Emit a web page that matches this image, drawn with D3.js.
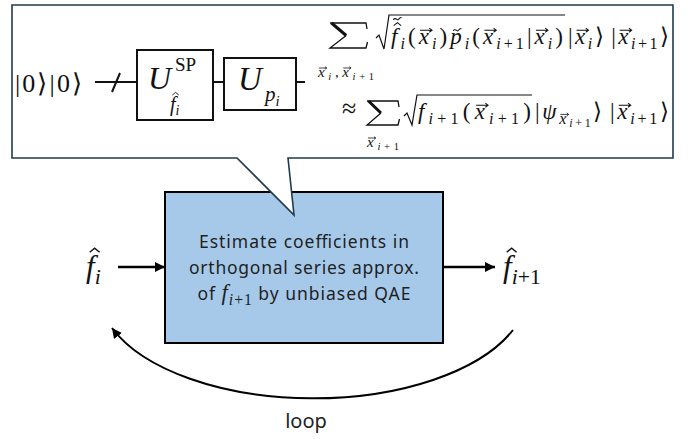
<!DOCTYPE html>
<html lang="en">
<head>
  <meta charset="UTF-8">
  <title>Iterative QAE loop</title>
  <style>
    body { margin: 0; background: #fff; }
    svg { display: block; }
  </style>
</head>
<body>
  <svg width="691" height="439"></svg>
  <script src="https://d3js.org/d3.v7.min.js"></script>
  <script>
    const svg = d3.select('svg');
    const SERIF = "'Liberation Serif', 'Times New Roman', serif";
    const SANS = "'Noto Sans', 'Open Sans', sans-serif";

    // Text content
    const boxLines = ['Estimate coefficients in', 'orthogonal series approx.'];
    const boxWidths = [210, 230, 213];
    const boxLine3 = [{s: 'of ', sans: 1, k: 0.78}, {s: 'f', it: 1}, {s: 'i', l: 1, it: 1}, {s: '+1', l: 1}, {s: ' by unbiased QAE', sans: 1, k: 0.78}];
    const loopLabel = 'loop';
    const kets = '|0⟩|0⟩';
    const spLabel = 'SP';

    // Formula pieces (l: 0 base, 1 sub, 2 sub-sub; it: italic; d: decoration)
    const sumSub1 = [{s: 'x', it: 1, d: 'vec'}, {s: 'i', l: 1, it: 1}, {s: ','}, {s: 'x', it: 1, d: 'vec'}, {s: 'i', l: 1, it: 1}, {s: '+1', l: 1}];
    const root1 = [
      {s: 'f', it: 1, d: 'hattilde'}, {s: 'i', l: 1, it: 1}, {s: '('}, {s: 'x', it: 1, d: 'vec'}, {s: 'i', l: 1, it: 1}, {s: ')'},
      {s: 'p', it: 1, d: 'tilde'}, {s: 'i', l: 1, it: 1}, {s: '('}, {s: 'x', it: 1, d: 'vec'}, {s: 'i', l: 1, it: 1}, {s: '+1', l: 1},
      {s: '|'}, {s: 'x', it: 1, d: 'vec'}, {s: 'i', l: 1, it: 1}, {s: ')'}
    ];
    const kets1 = [
      {s: '|'}, {s: 'x', it: 1, d: 'vec'}, {s: 'i', l: 1, it: 1}, {s: '⟩'},
      {s: '|', dx: 5}, {s: 'x', it: 1, d: 'vec'}, {s: 'i', l: 1, it: 1}, {s: '+1', l: 1}, {s: '⟩'}
    ];
    const sumSub2 = [{s: 'x', it: 1, d: 'vec'}, {s: 'i', l: 1, it: 1}, {s: '+1', l: 1}];
    const root2 = [{s: 'f', it: 1}, {s: 'i', l: 1, it: 1}, {s: '+1', l: 1}, {s: '('}, {s: 'x', it: 1, d: 'vec'}, {s: 'i', l: 1, it: 1}, {s: '+1', l: 1}, {s: ')'}];
    const kets2 = [
      {s: '|'}, {s: 'ψ', it: 1}, {s: 'x', l: 1, it: 1, d: 'vec'}, {s: 'i', l: 2, it: 1}, {s: '+1', l: 2}, {s: '⟩'},
      {s: '|', dx: 5}, {s: 'x', it: 1, d: 'vec'}, {s: 'i', l: 1, it: 1}, {s: '+1', l: 1}, {s: '⟩'}
    ];

    const defs = svg.append('defs');
    defs.append('marker')
      .attr('id', 'head')
      .attr('viewBox', '0 0 10 10')
      .attr('refX', 10).attr('refY', 5)
      .attr('markerWidth', 10).attr('markerHeight', 10)
      .attr('markerUnits', 'userSpaceOnUse')
      .attr('orient', 'auto')
      .append('path').attr('d', 'M0,0 L10,5 L0,10 Z').attr('fill', '#000');

    // draw a run of math text (one text chunk, shifts with dy), returns the text node
    function mathRun(g, x, y, size, parts, opts = {}) {
      const t = g.append('text')
        .attr('x', x).attr('y', y)
        .attr('font-family', SERIF)
        .attr('font-size', size)
        .style('white-space', 'pre')
        .attr('fill', opts.fill || '#111');
      if (opts.anchor) t.attr('text-anchor', opts.anchor);
      const info = [];
      let idx = 0, cur = 0;
      parts.forEach(p => {
        const l = p.l || 0;
        let fs = l === 0 ? size : l === 1 ? size * 0.7 : size * 0.52;
        if (p.k) fs = size * p.k;
        const shift = l === 0 ? 0 : l === 1 ? size * 0.22 : size * 0.36;
        const ts = t.append('tspan')
          .attr('dy', shift - cur)
          .attr('font-size', fs)
          .attr('font-style', p.it ? 'italic' : 'normal')
          .text(p.s);
        cur = shift;
        if (p.sans) ts.attr('font-family', SANS);
        if (p.dx) ts.attr('dx', p.dx);
        info.push({p, idx, fs, yb: y + shift});
        idx += p.s.length;
      });
      if (opts.width) t.attr('textLength', opts.width).attr('lengthAdjust', 'spacing');
      const node = t.node();
      info.forEach(({p, idx, fs, yb}) => {
        if (!p.d) return;
        const e = node.getExtentOfChar(idx);
        const cx = e.x + e.width / 2 + fs * 0.06;
        const sw = Math.max(0.8, fs * 0.045);
        if (p.d === 'vec') {
          const yy = yb - fs * 0.6, x1 = cx - fs * 0.22, x2 = cx + fs * 0.3;
          g.append('path')
            .attr('d', `M${x1},${yy} H${x2} M${x2 - fs * 0.12},${yy - fs * 0.09} L${x2},${yy} L${x2 - fs * 0.12},${yy + fs * 0.09}`)
            .attr('fill', 'none').attr('stroke', '#111').attr('stroke-width', sw);
        }
        if (p.d === 'hat' || p.d === 'hattilde') {
          const yy = yb - fs * 0.9, hx = cx + fs * 0.08;
          g.append('path')
            .attr('d', `M${hx - fs * 0.16},${yy + fs * 0.1} L${hx},${yy - fs * 0.03} L${hx + fs * 0.16},${yy + fs * 0.1}`)
            .attr('fill', 'none').attr('stroke', '#111').attr('stroke-width', sw);
        }
        if (p.d === 'tilde' || p.d === 'hattilde') {
          const yy = p.d === 'tilde' ? yb - fs * 0.62 : yb - fs * 1.1;
          const hx = p.d === 'tilde' ? cx : cx + fs * 0.08;
          const w = fs * 0.18;
          g.append('path')
            .attr('d', `M${hx - w},${yy + 1} C${hx - w * 0.5},${yy - 2} ${hx},${yy + 2} ${hx + w * 0.2},${yy + 1} S${hx + w * 0.8},${yy - 1.5} ${hx + w},${yy - 1}`)
            .attr('fill', 'none').attr('stroke', '#111').attr('stroke-width', sw);
        }
      });
      return node;
    }

    // big summation sign drawn as strokes
    function sigma(g, x, y, w, h) {
      const s = g.append('g').attr('stroke', '#111').attr('fill', 'none');
      s.append('path').attr('d', `M${x},${y} H${x + w} L${x + w + 1},${y + 6}`).attr('stroke-width', 1.3);
      s.append('path').attr('d', `M${x + 1.5},${y} L${x + w * 0.45},${y + h / 2}`).attr('stroke-width', 3);
      s.append('path').attr('d', `M${x + w * 0.45},${y + h / 2} L${x},${y + h} H${x + w} L${x + w + 1.5},${y + h - 6}`).attr('stroke-width', 1.3);
    }

    function radical(g, x0, top, bottom, x1) {
      const mid = (top + bottom) / 2 + 4;
      g.append('path')
        .attr('d', `M${x0},${mid + 2} L${x0 + 3},${mid - 1} L${x0 + 8},${bottom} L${x0 + 13},${top} H${x1}`)
        .attr('fill', 'none').attr('stroke', '#111').attr('stroke-width', 1.2);
    }

    // Blue process box
    svg.append('rect')
      .attr('x', 165).attr('y', 192).attr('width', 278).attr('height', 151)
      .attr('fill', '#a6c9ea').attr('stroke', '#000').attr('stroke-width', 2);

    boxLines.forEach((line, k) => {
      svg.append('text')
        .attr('x', 304).attr('y', 248 + k * 26)
        .attr('text-anchor', 'middle')
        .attr('font-family', SANS).attr('font-size', 17.5)
        .attr('textLength', boxWidths[k]).attr('lengthAdjust', 'spacing')
        .attr('fill', '#1f1f1f')
        .text(line);
    });
    mathRun(svg, 304, 300, 22.5, boxLine3, {anchor: 'middle', fill: '#1f1f1f', width: boxWidths[2]});

    // Callout bubble
    svg.append('path')
      .attr('d', 'M12,5 H673 V158 H288 L294,215 L237,158 H12 Z')
      .attr('fill', '#fff').attr('stroke', '#1f3b4d').attr('stroke-width', 1.6);

    // Circuit
    const circ = svg.append('g');
    circ.append('text')
      .attr('x', 15).attr('y', 92)
      .attr('font-family', SERIF).attr('font-size', 26)
      .attr('textLength', 67).attr('lengthAdjust', 'spacing')
      .attr('fill', '#111')
      .text(kets);
    circ.append('path')
      .attr('d', 'M95,82 H137 M213,82 H224 M296,82 H305 M112,92 L120,73')
      .attr('stroke', '#111').attr('stroke-width', 2).attr('fill', 'none');
    circ.append('rect').attr('x', 137).attr('y', 50).attr('width', 76).attr('height', 70)
      .attr('fill', '#fff').attr('stroke', '#111').attr('stroke-width', 2);
    circ.append('rect').attr('x', 224).attr('y', 58).attr('width', 72).attr('height', 52)
      .attr('fill', '#fff').attr('stroke', '#111').attr('stroke-width', 2);
    circ.append('text').attr('x', 148).attr('y', 89)
      .attr('font-family', SERIF).attr('font-size', 32).attr('font-style', 'italic').attr('fill', '#111').text('U');
    circ.append('text').attr('x', 175).attr('y', 71)
      .attr('font-family', SERIF).attr('font-size', 19).attr('fill', '#111').text(spLabel);
    mathRun(circ, 170, 111, 20, [{s: 'f', it: 1, d: 'hat'}, {s: 'i', l: 1, it: 1}]);
    circ.append('text').attr('x', 238).attr('y', 90)
      .attr('font-family', SERIF).attr('font-size', 33).attr('font-style', 'italic').attr('fill', '#111').text('U');
    mathRun(circ, 265, 101, 21, [{s: 'p', it: 1}, {s: 'i', l: 1, it: 1}]);

    // Formula line 1
    const fm = svg.append('g');
    sigma(fm, 330, 23, 36, 25);
    mathRun(fm, 346, 77, 15, sumSub1, {anchor: 'middle', width: 56});
    radical(fm, 376, 15, 49, 565);
    mathRun(fm, 391, 44, 23, root1, {width: 172});
    mathRun(fm, 568, 44, 23, kets1, {width: 101});

    // Formula line 2
    fm.append('text').attr('x', 342).attr('y', 117)
      .attr('font-family', SERIF).attr('font-size', 26).attr('fill', '#111').text('≈');
    sigma(fm, 367, 101, 31, 24);
    mathRun(fm, 383, 147, 15, sumSub2, {anchor: 'middle', width: 32});
    radical(fm, 404, 95, 125, 532);
    mathRun(fm, 418, 119, 23, root2, {width: 113});
    mathRun(fm, 535, 119, 23, kets2, {width: 134});

    // Input / output labels and arrows
    mathRun(svg, 86, 277, 31, [{s: 'f', it: 1, d: 'hat'}, {s: 'i', l: 1, it: 1}]);
    mathRun(svg, 503, 277, 31, [{s: 'f', it: 1, d: 'hat'}, {s: 'i', l: 1, it: 1}, {s: '+1', l: 1}]);
    svg.append('line').attr('x1', 118).attr('y1', 267).attr('x2', 165).attr('y2', 267)
      .attr('stroke', '#000').attr('stroke-width', 2.5).attr('marker-end', 'url(#head)');
    svg.append('line').attr('x1', 444).attr('y1', 267).attr('x2', 495).attr('y2', 267)
      .attr('stroke', '#000').attr('stroke-width', 2.5).attr('marker-end', 'url(#head)');

    // Loop arc
    svg.append('path')
      .attr('d', 'M513,330 A215,108.5 0 0 1 112,328')
      .attr('fill', 'none').attr('stroke', '#000').attr('stroke-width', 2)
      .attr('marker-end', 'url(#head)');
    svg.append('text')
      .attr('x', 306).attr('y', 428)
      .attr('text-anchor', 'middle')
      .attr('font-family', SANS).attr('font-size', 20)
      .attr('fill', '#222')
      .text(loopLabel);
  </script>
</body>
</html>
